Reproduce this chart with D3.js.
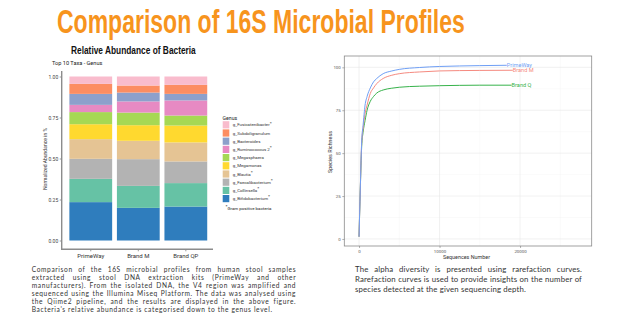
<!DOCTYPE html>
<html>
<head>
<meta charset="utf-8">
<script src="https://cdn.jsdelivr.net/npm/d3@7"></script>
<style>
  body { margin: 0; background: #fff; }
  svg { display: block; }
</style>
</head>
<body>
<svg width="624" height="336"></svg>
<script>
// ---- data ----
var samples = ["PrimeWay", "Brand M", "Brand QP"];
// genus, bottom to top of each bar
var genera = ["g_Bifidobacterium", "g_Collinsella", "g_Faecalibacterium", "g_Blautia",
  "g_Megamonas", "g_Megasphaera", "g_Ruminococcus 2", "g_Bacteroides",
  "g_Subdoligranulum", "g_Fusicatenibacter"];
var gramPositive = [true, true, true, true, false, false, true, false, false, true];
var genusColours = ["#2f7dbd", "#66c2a5", "#b3b3b3", "#e5c494", "#ffd92f",
  "#a6d854", "#e78ac3", "#8da0cb", "#fc8d62", "#f9bccd"];
var abundPrimeWay = [0.234, 0.142, 0.122, 0.120, 0.091, 0.074, 0.044, 0.067, 0.061, 0.045];
var abundBrandM   = [0.199, 0.134, 0.163, 0.112, 0.095, 0.077, 0.068, 0.054, 0.043, 0.055];
var abundBrandQP  = [0.207, 0.143, 0.132, 0.116, 0.103, 0.061, 0.092, 0.040, 0.055, 0.051];
var yTicksBar = [0, 0.25, 0.5, 0.75, 1];

// rarefaction curves (sequences number, species richness)
var depthPrimeWay = [0, 150, 330, 500, 750, 1000, 1400, 1800, 2200, 3000, 4000, 5000, 7500, 10000, 12500, 15000, 18350];
var richPrimeWay  = [1.3, 28, 57, 66, 78, 83, 88, 91.5, 93.5, 96.3, 97.8, 98.8, 99.9, 100.5, 100.8, 101, 101.2];
var depthBrandM = [0, 150, 330, 500, 750, 1000, 1400, 1800, 2200, 3000, 4000, 5000, 7500, 10000, 12500, 15000, 19100];
var richBrandM  = [1.3, 28, 56, 64, 73, 78, 84.8, 88, 90.5, 93.5, 95.3, 96.3, 97.3, 97.9, 98.1, 98.2, 98.3];
var depthBrandQ = [0, 150, 330, 500, 750, 1000, 1400, 1800, 2200, 3000, 4000, 5000, 7500, 10000, 12500, 15000, 18950];
var richBrandQ  = [1.3, 28, 54, 62, 69, 75, 80.2, 83, 85, 86.8, 87.8, 88.4, 89, 89.3, 89.5, 89.6, 89.6];
var curveNames = ["PrimeWay", "Brand M", "Brand Q"];
var curveColours = ["#6f9ff5", "#f58a80", "#36b24a"];
var xTicksRare = [0, 10000, 20000];
var yTicksRare = [0, 25, 50, 75, 100];

var textLeft = [
  "Comparison of the 16S microbial profiles from human stool samples",
  "extracted using stool DNA extraction kits (PrimeWay and other",
  "manufacturers). From the isolated DNA, the V4 region was amplified and",
  "sequenced using the Illumina Miseq Platform. The data was analysed using",
  "the Qiime2 pipeline, and the results are displayed in the above figure.",
  "Bacteria's relative abundance is categorised down to the genus level."
];
var textRight = [
  "The alpha diversity is presented using rarefaction curves.",
  "Rarefaction curves is used to provide insights on the number of",
  "species detected at the given sequencing depth."
];

var svg = d3.select("svg");

// ---- titles (squeezed horizontally to the measured width) ----
function narrowTitle(s, x, y, w, fs, fill){
  var t = svg.append("text")
    .style("font-family", "'Liberation Sans Narrow', 'Liberation Sans', sans-serif")
    .style("font-weight", "bold").style("font-size", fs + "px")
    .style("fill", fill)
    .text(s);
  var sx = w / t.node().getComputedTextLength();
  t.attr("transform", "translate(" + x + "," + y + ") scale(" + sx + ",1)");
}
narrowTitle("Comparison of 16S Microbial Profiles", 57, 33, 408, 33, "#f7941d");
narrowTitle("Relative Abundance of Bacteria", 71, 53.5, 125, 10.5, "#111");

// ---- stacked bar chart ----
var bar = svg.append("g");
var series = [abundPrimeWay, abundBrandM, abundBrandQP];
var rows = samples.map(function(s, i){
  var r = {sample: s};
  genera.forEach(function(g, j){ r[g] = series[i][j]; });
  return r;
});
var stacked = d3.stack().keys(genera)(rows);

var xb = d3.scaleBand().domain(samples).range([67, 209.6]).paddingInner(0.1).paddingOuter(0.05);
var yb = d3.scaleLinear().domain([0, 1]).range([240.5, 76.5]);
var colour = d3.scaleOrdinal().domain(genera).range(genusColours);

bar.append("text")
  .attr("x", 52).attr("y", 64.5)
  .style("font-family", "Roboto, sans-serif").style("font-size", "5.6px")
  .style("fill", "#222")
  .text("Top 10 Taxa - Genus");

bar.selectAll("g.layer")
  .data(stacked)
  .enter().append("g")
  .attr("class", "layer")
  .style("fill", d => colour(d.key))
  .selectAll("rect")
  .data(d => d)
  .enter().append("rect")
  .attr("x", d => xb(d.data.sample))
  .attr("y", d => yb(d[1]))
  .attr("width", xb.bandwidth())
  .attr("height", d => yb(d[0]) - yb(d[1]));

var yAxisB = d3.axisLeft(yb).tickValues(yTicksBar).tickFormat(d3.format(".2f")).tickSize(2).tickPadding(1.5);
var gyb = bar.append("g").attr("transform", "translate(61.7,0)").call(yAxisB);
gyb.select(".domain").remove();
gyb.selectAll("line").style("stroke", "#555").style("stroke-width", 0.6);
gyb.selectAll("text").style("font-family", "Roboto, sans-serif").style("font-size", "5px").style("fill", "#444");
bar.append("line").attr("x1", 61.7).attr("x2", 61.7).attr("y1", 71).attr("y2", 249.3)
  .style("stroke", "#8c8c8c").style("stroke-width", 1.4);

var xAxisB = d3.axisBottom(xb).tickSize(2).tickPadding(2.5);
var gxb = bar.append("g").attr("transform", "translate(0,249.3)").call(xAxisB);
gxb.select(".domain").remove();
gxb.selectAll("line").style("stroke", "#555").style("stroke-width", 0.6);
gxb.selectAll("text").style("font-family", "Roboto, sans-serif").style("font-size", "6px").style("fill", "#333");
bar.append("line").attr("x1", 61).attr("x2", 213).attr("y1", 249.3).attr("y2", 249.3)
  .style("stroke", "#8c8c8c").style("stroke-width", 1.4);

bar.append("text")
  .attr("transform", "translate(46.5,159) rotate(-90)")
  .attr("text-anchor", "middle")
  .style("font-family", "Roboto, sans-serif").style("font-size", "5px").style("fill", "#333")
  .text("Normalized Abundance in %");

// legend (top entry first)
var legend = bar.append("g").style("font-family", "Roboto, sans-serif");
legend.append("text").attr("x", 222.5).attr("y", 119.5)
  .style("font-size", "5.2px").style("fill", "#222").text("Genus");
var legOrder = genera.slice().reverse();
var item = legend.selectAll("g.item")
  .data(legOrder)
  .enter().append("g")
  .attr("class", "item")
  .attr("transform", (d, i) => "translate(222.7," + (121.2 + i * 8.2) + ")");
item.append("rect").attr("width", 6.6).attr("height", 7.2).style("fill", d => colour(d));
var lt = item.append("text").attr("x", 10).attr("y", 5.2)
  .style("font-size", "4.4px").style("fill", "#333");
lt.append("tspan").text(d => d);
lt.filter(d => gramPositive[genera.indexOf(d)])
  .append("tspan").attr("dy", -1.8).style("font-size", "4.4px").style("font-weight", "bold").text("*");

var note = legend.append("text").attr("x", 225.5).attr("y", 209.5)
  .style("font-size", "4.4px").style("fill", "#222");
note.append("tspan").attr("dy", -1.8).style("font-weight", "bold").text("*");
note.append("tspan").attr("dy", 1.8).text("Gram positive bacteria");

// ---- rarefaction chart ----
var rare = svg.append("g");
var xr = d3.scaleLinear().domain([-1830, 28900]).range([344.3, 591.7]);
var yr = d3.scaleLinear().domain([-4.1, 106.6]).range([246, 56]);

var minorX = [5000, 15000, 25000];
var minorY = [12.5, 37.5, 62.5, 87.5];
rare.selectAll("line.minx").data(minorX).enter().append("line")
  .attr("x1", d => xr(d)).attr("x2", d => xr(d)).attr("y1", 56).attr("y2", 246)
  .style("stroke", "#f3f3f3").style("stroke-width", 0.4);
rare.selectAll("line.miny").data(minorY).enter().append("line")
  .attr("x1", 344.3).attr("x2", 591.7).attr("y1", d => yr(d)).attr("y2", d => yr(d))
  .style("stroke", "#f3f3f3").style("stroke-width", 0.4);
rare.selectAll("line.majx").data(xTicksRare).enter().append("line")
  .attr("x1", d => xr(d)).attr("x2", d => xr(d)).attr("y1", 56).attr("y2", 246)
  .style("stroke", "#e8e8e8").style("stroke-width", 0.6);
rare.selectAll("line.majy").data(yTicksRare).enter().append("line")
  .attr("x1", 344.3).attr("x2", 591.7).attr("y1", d => yr(d)).attr("y2", d => yr(d))
  .style("stroke", "#e8e8e8").style("stroke-width", 0.6);

var lineGen = d3.line().x(d => xr(d[0])).y(d => yr(d[1])).curve(d3.curveMonotoneX);
var curves = [
  d3.zip(depthPrimeWay, richPrimeWay),
  d3.zip(depthBrandM, richBrandM),
  d3.zip(depthBrandQ, richBrandQ)
];
// draw Brand Q first so PrimeWay sits on top
[2, 1, 0].forEach(function(i){
  rare.append("path").datum(curves[i]).attr("d", lineGen)
    .style("fill", "none").style("stroke", curveColours[i]).style("stroke-width", 1);
});
curves.forEach(function(c, i){
  var last = c[c.length - 1];
  rare.append("text")
    .attr("x", xr(last[0])).attr("y", yr(last[1]) + 2)
    .style("font-family", "Roboto, sans-serif").style("font-size", "5.6px")
    .style("fill", curveColours[i])
    .text(curveNames[i]);
});

rare.append("rect").attr("x", 344.3).attr("y", 56).attr("width", 591.7 - 344.3).attr("height", 190)
  .style("fill", "none").style("stroke", "#8a8a8a").style("stroke-width", 0.8);

var gxr = rare.append("g").attr("transform", "translate(0,246)")
  .call(d3.axisBottom(xr).tickValues(xTicksRare).tickFormat(d3.format("d")).tickSize(2).tickPadding(1.5));
var gyr = rare.append("g").attr("transform", "translate(344.3,0)")
  .call(d3.axisLeft(yr).tickValues(yTicksRare).tickSize(2).tickPadding(1.5));
[gxr, gyr].forEach(function(g){
  g.select(".domain").remove();
  g.selectAll("line").style("stroke", "#666").style("stroke-width", 0.5);
  g.selectAll("text").style("font-family", "Roboto, sans-serif").style("font-size", "4.4px").style("fill", "#555");
});

rare.append("text")
  .attr("x", 466.5).attr("y", 258.5).attr("text-anchor", "middle")
  .style("font-family", "Roboto, sans-serif").style("font-size", "5.4px").style("fill", "#333")
  .text("Sequences Number");
rare.append("text")
  .attr("transform", "translate(331.5,152) rotate(-90)")
  .attr("text-anchor", "middle")
  .style("font-family", "Roboto, sans-serif").style("font-size", "5.4px").style("fill", "#333")
  .text("Species Richness");

// ---- paragraphs (justified, last line left) ----
function paragraph(lines, x, y0, lineH, width, lastWidth, fs){
  var g = svg.append("g")
    .style("font-family", "Lato, 'Open Sans', sans-serif").style("fill", "#333")
    .style("font-size", fs + "px");
  // letter spacing so the unjustified last line gets its measured width
  var lastText = lines[lines.length - 1];
  var probe = g.append("text").text(lastText);
  var ls = (lastWidth - probe.node().getComputedTextLength()) / lastText.length;
  probe.remove();
  g.style("letter-spacing", ls + "px");
  lines.forEach(function(s, i){
    var t = g.append("text").attr("x", x).attr("y", y0 + i * lineH).text(s);
    if (i < lines.length - 1) {
      var gaps = s.split(" ").length - 1;
      var extra = (width - t.node().getComputedTextLength()) / gaps;
      t.style("word-spacing", extra + "px");
    }
  });
}
paragraph(textLeft, 31.7, 272, 7.95, 264.5, 241, 6.6);
paragraph(textRight, 355, 271.5, 10.2, 227, 171, 7.8);
</script>
</body>
</html>
